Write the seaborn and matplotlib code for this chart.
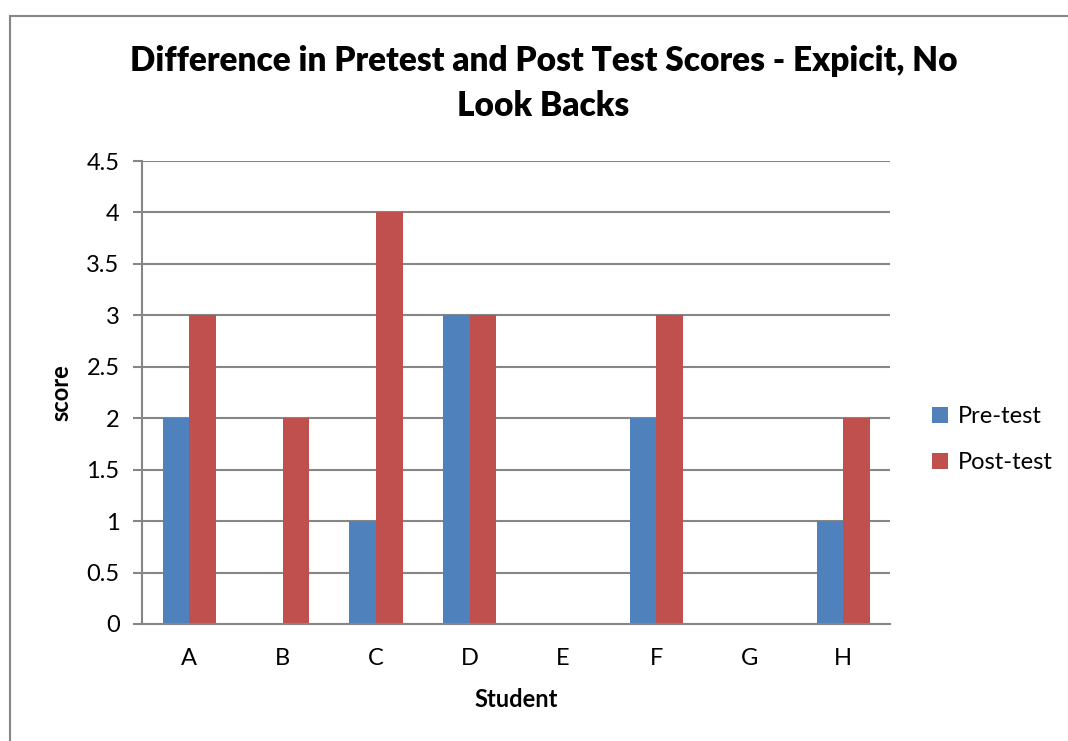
import pandas as pd
import numpy as np
import matplotlib.pyplot as plt
import seaborn as sns
from matplotlib.patches import Rectangle

# data
students = ["A", "B", "C", "D", "E", "F", "G", "H"]
pre_test = [2, 0, 1, 3, 0, 2, 0, 1]
post_test = [3, 2, 4, 3, 0, 3, 0, 2]
series = ["Pre-test", "Post-test"]
colors = ["#4F81BD", "#C0504D"]
y_ticks = [0, 0.5, 1, 1.5, 2, 2.5, 3, 3.5, 4, 4.5]

df = pd.DataFrame({
    "Student": students * 2,
    "score": pre_test + post_test,
    "series": [series[0]] * len(students) + [series[1]] * len(students),
})

sns.set_style("white")
plt.rcParams["font.family"] = ["Lato", "DejaVu Sans"]
plt.rcParams["text.color"] = "black"
plt.rcParams["axes.labelcolor"] = "black"
plt.rcParams["xtick.color"] = "black"
plt.rcParams["ytick.color"] = "black"

fig = plt.figure(figsize=(10.68, 7.41), dpi=100)
ax = fig.add_axes([0.1334, 0.1579, 0.700, 0.6248])

sns.barplot(data=df, x="Student", y="score", hue="series", palette=colors,
            width=0.57, saturation=1, linewidth=0, ax=ax, legend=True)

ax.set_ylim(0, 4.5)
ax.set_xlim(-0.5, 7.5)
ax.set_yticks(y_ticks)
ax.set_yticklabels(["%g" % v for v in y_ticks], fontsize=17)
ax.tick_params(axis="x", length=0, labelsize=17, pad=17)
ax.tick_params(axis="y", length=6.5, width=1.5, color="#868686", labelcolor="black",
               pad=10, left=True)
ax.yaxis.grid(True, color="#868686", linewidth=1.5)
ax.set_axisbelow(True)
for s in ["top", "right"]:
    ax.spines[s].set_visible(False)
for s in ["left", "bottom"]:
    ax.spines[s].set_color("#868686")
    ax.spines[s].set_linewidth(1.5)

ax.set_xlabel("Student", fontsize=17, fontweight="bold", labelpad=14)
ax.set_ylabel("score", fontsize=17, fontweight="bold", labelpad=10)

fig.text(0.509, 0.918, "Difference in Pretest and Post Test Scores - Expicit, No",
         ha="center", va="center", fontsize=24, fontweight="heavy")
fig.text(0.509, 0.857, "Look Backs",
         ha="center", va="center", fontsize=24, fontweight="heavy")

ax.legend(title=None, frameon=False, fontsize=17, loc="center left",
          bbox_to_anchor=(1.027, 0.398), handlelength=0.7, handleheight=0.7,
          handletextpad=0.4, labelspacing=1.05)

# outer chart border (cut off on the right and bottom)
fig.patches.append(Rectangle((10 / 1068, -0.1), 1.2, 1 - 16 / 741 + 0.1,
                             transform=fig.transFigure, fill=False,
                             edgecolor="#868686", linewidth=1.5))

plt.savefig("out.png", dpi=100)
